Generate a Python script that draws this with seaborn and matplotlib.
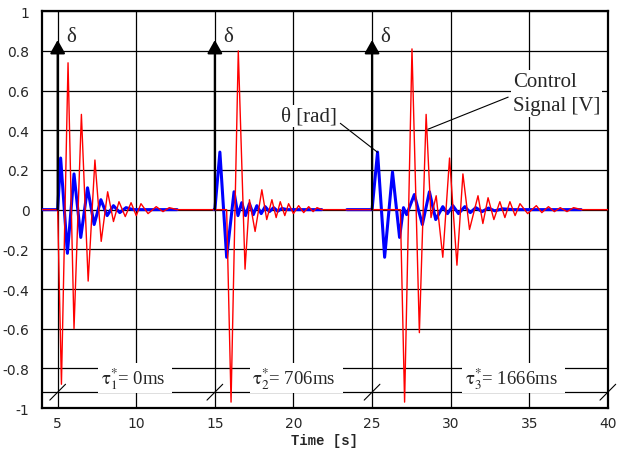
import numpy as np
import pandas as pd
import seaborn as sns
import matplotlib.pyplot as plt

# control signal [V] (red) - extrema
red_t = [4.05, 5.0, 5.24, 5.66, 6.04, 6.51, 6.94, 7.37, 7.77, 8.18, 8.55, 8.9, 9.3, 9.67,
         10.0, 10.3, 10.75, 11.27, 11.7, 12.1, 12.6,
         15.75, 16.03, 16.49, 16.92, 17.2, 17.56, 17.99, 18.3, 18.63, 18.9, 19.16, 19.45,
         19.69, 20.0, 20.33, 20.65, 20.97, 21.25, 21.5, 21.8,
         26.8, 27.07, 27.54, 28.01, 28.44, 28.75, 29.08, 29.5, 29.93, 30.4, 30.78, 31.2,
         31.74, 32.05, 32.38, 32.75, 33.13, 33.45, 33.77, 34.1, 34.41, 34.9, 35.45, 35.8,
         36.22, 36.6, 36.97, 37.4, 37.82, 38.33, 40.0]
red_v = [0, 0, -0.88, 0.74, -0.60, 0.48, -0.36, 0.25, -0.16, 0.09, -0.06, 0.04, -0.035, 0.035,
         -0.03, 0.03, -0.02, 0.015, -0.01, 0.01, 0,
         0, -0.97, 0.80, -0.30, 0.05, -0.11, 0.10, -0.05, 0.05, -0.04, 0.04, -0.03,
         0.03, -0.02, 0.02, -0.015, 0.015, -0.01, 0.01, 0,
         0, -0.97, 0.81, -0.62, 0.48, -0.04, 0.07, -0.24, 0.26, -0.28, 0.18, -0.10,
         0.07, -0.07, 0.06, -0.05, 0.04, -0.04, 0.04, -0.03, 0.03, -0.02, 0.02, -0.015,
         0.015, -0.01, 0.01, -0.01, 0.01, 0, 0]

# theta [rad] (blue), one run per impulse
blue1_t = [4.05, 5.0, 5.19, 5.62, 6.04, 6.47, 6.9, 7.32, 7.75, 8.15, 8.55, 8.95, 9.35, 9.8, 12.6]
blue1_v = [0, 0, 0.26, -0.22, 0.18, -0.14, 0.11, -0.075, 0.05, -0.03, 0.02, -0.015, 0.01, 0, 0]
blue2_t = [14.95, 15.0, 15.32, 15.75, 16.22, 16.47, 16.71, 16.95, 17.2, 17.45, 17.67, 17.95,
           18.2, 18.47, 18.74, 19.0, 19.27, 19.6, 21.8]
blue2_v = [0, 0, 0.29, -0.24, 0.09, -0.03, 0.035, -0.03, 0.03, -0.025, 0.02, -0.02,
           0.015, -0.01, 0.01, -0.008, 0.006, 0, 0]
blue3_t = [23.4, 25.0, 25.35, 25.8, 26.3, 26.75, 27.0, 27.2, 27.69, 28.2, 28.65, 29.05, 29.5,
           29.8, 30.14, 30.5, 30.9, 31.25, 31.6, 32.0, 32.4, 32.8, 33.3, 34.0, 38.3]
blue3_v = [0, 0, 0.29, -0.24, 0.19, -0.14, 0.01, -0.025, 0.076, -0.075, 0.09, -0.05, 0.015,
           -0.02, 0.02, -0.02, 0.015, -0.015, 0.01, -0.01, 0.008, -0.006, 0.004, 0, 0]

impulse_t = [5, 15, 25]
tau_labels = [r'$\mathrm{τ}^{*}_{1}$= 0ms', r'$\mathrm{τ}^{*}_{2}$= 706ms',
              r'$\mathrm{τ}^{*}_{3}$= 1666ms']
tau_x = [9.95, 20.2, 34.0]
mark_t = [5, 15, 25, 40]

sns.set_style('white')
plt.rcParams['mathtext.fontset'] = 'stix'

red = pd.DataFrame({'t': red_t, 'v': red_v})
blue = pd.concat([
    pd.DataFrame({'t': blue1_t, 'v': blue1_v, 'seg': 1}),
    pd.DataFrame({'t': blue2_t, 'v': blue2_v, 'seg': 2}),
    pd.DataFrame({'t': blue3_t, 'v': blue3_v, 'seg': 3}),
])

fig = plt.figure(figsize=(6.26, 4.52), dpi=100)
ax = fig.add_axes([0.067, 0.095, 0.904, 0.878])

sns.lineplot(data=blue, x='t', y='v', units='seg', estimator=None, sort=False,
             color='#0000ff', lw=2.2, ax=ax, zorder=3)
sns.lineplot(data=red, x='t', y='v', estimator=None, sort=False,
             color='#ff0000', lw=1.0, ax=ax, zorder=4)

ax.set_xlim(4, 40)
ax.set_ylim(-1, 1)
ax.set_xticks(range(5, 41, 5))
ax.set_yticks(np.round(np.arange(-1, 1.01, 0.2), 1))
ax.set_yticklabels(['-1', '-0.8', '-0.6', '-0.4', '-0.2', '0', '0.2', '0.4', '0.6', '0.8', '1'])
ax.grid(True, color='black', lw=0.9)
ax.set_axisbelow(True)
ax.tick_params(length=0, labelsize=10)
ax.tick_params(axis='y', pad=9)
ax.tick_params(axis='x', pad=6)
for s in ax.spines.values():
    s.set_color('black')
    s.set_linewidth(1.6)
ax.set_ylabel('')
ax.set_xlabel('Time [s]', family='Liberation Mono', weight='bold', fontsize=10, labelpad=2)

serif = 'Liberation Serif'

# impulse arrows
for t in impulse_t:
    ax.annotate('', xy=(t, 0.855), xytext=(t, 0),
                arrowprops=dict(arrowstyle='-|>,head_length=0.8,head_width=0.45',
                                color='black', lw=1.6, mutation_scale=10,
                                shrinkA=0, shrinkB=0), zorder=5)
    ax.text(t + 0.55, 0.875, 'δ', fontsize=15, family=serif, ha='left', va='center', zorder=6)

# time-line with break marks
ax.plot([4, 40], [-0.92, -0.92], color='black', lw=0.9, zorder=2)
for t in mark_t:
    ax.plot([t - 0.5, t + 0.5], [-0.96, -0.88], color='black', lw=0.8, clip_on=False, zorder=2)
for x, lab in zip(tau_x, tau_labels):
    ax.text(x, -0.85, lab + '  ', fontsize=13.5, family=serif, ha='center', va='center',
            zorder=6, bbox=dict(facecolor='white', edgecolor='none', pad=1.5))

# labels with leader lines
ax.plot([22.98, 25.35], [0.435, 0.289], color='black', lw=0.8, zorder=5)
ax.text(21.0, 0.47, 'θ [rad]', fontsize=15, family=serif, ha='center', va='center',
        zorder=6, bbox=dict(facecolor='white', edgecolor='none', pad=1))
ax.plot([33.66, 28.55], [0.567, 0.405], color='black', lw=0.8, zorder=5)
ax.text(33.95, 0.585, 'Control\nSignal [V]', fontsize=15, family=serif, ha='left', va='center',
        linespacing=1.4, zorder=6, bbox=dict(facecolor='white', edgecolor='none', pad=1))

fig.savefig('out.png', dpi=100)
